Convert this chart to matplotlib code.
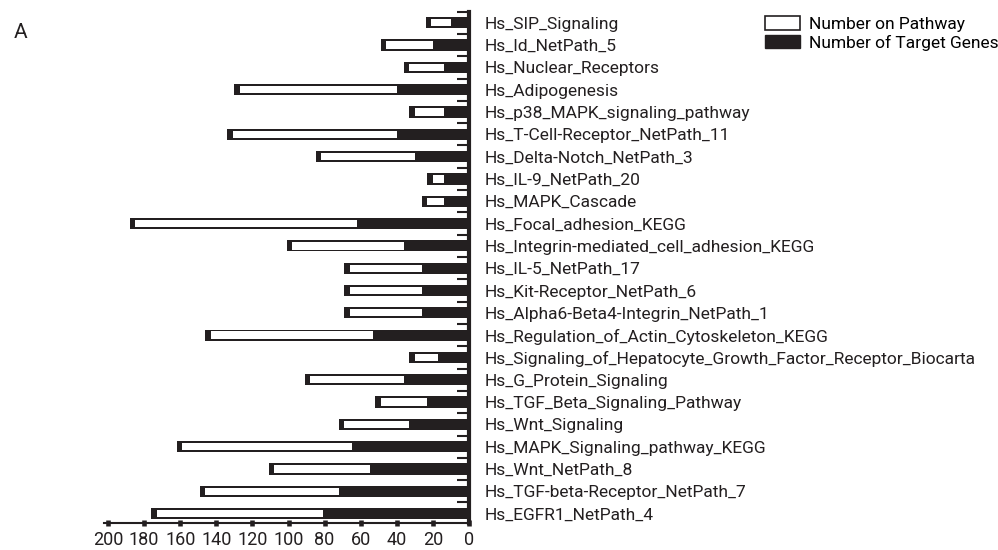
import numpy as np
import matplotlib
matplotlib.use('Agg')
import matplotlib.pyplot as plt
from matplotlib.patches import Patch

pathways = [
    "Hs_SIP_Signaling", "Hs_Id_NetPath_5", "Hs_Nuclear_Receptors", "Hs_Adipogenesis",
    "Hs_p38_MAPK_signaling_pathway", "Hs_T-Cell-Receptor_NetPath_11", "Hs_Delta-Notch_NetPath_3",
    "Hs_IL-9_NetPath_20", "Hs_MAPK_Cascade", "Hs_Focal_adhesion_KEGG",
    "Hs_Integrin-mediated_cell_adhesion_KEGG", "Hs_IL-5_NetPath_17", "Hs_Kit-Receptor_NetPath_6",
    "Hs_Alpha6-Beta4-Integrin_NetPath_1", "Hs_Regulation_of_Actin_Cytoskeleton_KEGG",
    "Hs_Signaling_of_Hepatocyte_Growth_Factor_Receptor_Biocarta", "Hs_G_Protein_Signaling",
    "Hs_TGF_Beta_Signaling_Pathway", "Hs_Wnt_Signaling", "Hs_MAPK_Signaling_pathway_KEGG",
    "Hs_Wnt_NetPath_8", "Hs_TGF-beta-Receptor_NetPath_7", "Hs_EGFR1_NetPath_4",
]
number_on_pathway = [24, 49, 36, 130, 33, 134, 85, 23, 26, 188, 101, 69, 69, 69, 146,
                     33, 91, 52, 72, 162, 111, 149, 176]
number_target_genes = [10, 20, 14, 40, 14, 40, 30, 14, 14, 62, 36, 26, 26, 26, 53,
                       17, 36, 23, 33, 65, 55, 72, 81]
xticks = [0, 20, 40, 60, 80, 100, 120, 140, 160, 180, 200]

plt.rcParams['font.family'] = ['Roboto', 'DejaVu Sans']
lab_fs = 12.5

black = '#231f20'
pathway = np.array(number_on_pathway)
target = np.array(number_target_genes)
y = np.arange(len(pathways))
edge = 3  # thick left border of the outlined bar

fig = plt.figure(figsize=(9.98, 5.5), dpi=100)
ax = fig.add_axes([104.4 / 998, 27 / 550, (469 - 104.4) / 998, 511.4 / 550])

ax.barh(y, pathway, height=0.5, color=black, zorder=2)
ax.barh(y, pathway - target - edge, left=target, height=0.33, color='white', zorder=3)
ax.barh(y, target, height=0.5, color=black, zorder=4)

ax.set_xlim(202, 0)
ax.set_ylim(22.42, -0.5)

for s in ['top', 'left']:
    ax.spines[s].set_visible(False)
ax.spines['right'].set_linewidth(3)
ax.spines['right'].set_color(black)
ax.spines['bottom'].set_linewidth(1.5)
ax.spines['bottom'].set_color(black)

ax.yaxis.set_ticks_position('right')
ax.set_yticks(y)
ax.set_yticklabels(pathways, fontsize=lab_fs, color=black)
ax.set_yticks(np.arange(len(pathways)) - 0.5, minor=True)
ax.tick_params(axis='y', which='major', length=0, pad=11)
ax.tick_params(axis='y', which='minor', direction='in', length=9, width=1.5, color=black)

ax.set_xticks(xticks)
ax.set_xticklabels([str(v) for v in xticks], fontsize=13, color=black)
ax.tick_params(axis='x', direction='inout', length=4, width=3.3, color=black, pad=4)

handles = [Patch(facecolor='white', edgecolor=black, linewidth=1.2, label='Number on Pathway'),
           Patch(facecolor=black, edgecolor=black, label='Number of Target Genes')]
fig.legend(handles=handles, loc='upper left', bbox_to_anchor=(765 / 998, 1 - 16 / 550),
           frameon=False, fontsize=lab_fs, borderpad=0, borderaxespad=0,
           handlelength=2.0, handleheight=0.85, handletextpad=0.55, labelspacing=0.15)

fig.text(14 / 998, 1 - 32 / 550, 'A', fontsize=15, va='center', ha='left', color=black)

plt.savefig('out.png', dpi=100)
